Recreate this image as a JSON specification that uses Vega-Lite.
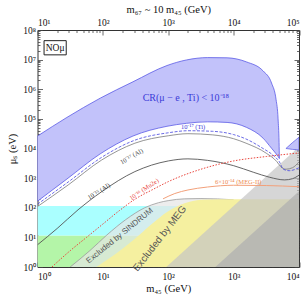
{
  "$schema": "https://vega.github.io/schema/vega-lite/v6.json",
  "width": 261.5,
  "height": 237,
  "autosize": {"type": "none"},
  "padding": {"left": 37.5, "top": 30, "right": 8, "bottom": 33},
  "background": "white",
  "config": {
    "view": {"stroke": "#333", "strokeWidth": 1},
    "axis": {"grid": false, "domain": false, "zindex": 1, "labelFont": "Liberation Serif", "titleFont": "Liberation Serif", "labelFontSize": 9.5, "titleFontSize": 10.5, "labelColor": "#111", "titleColor": "#111", "titleFontWeight": "normal", "tickColor": "#444", "tickWidth": 0.8}
  },
  "datasets": {
    "rects": [
      {"id": "green", "x": 1, "x2": 10000, "y": 1, "y2": 11.5},
      {"id": "cyan", "x": 1, "x2": 10000, "y": 11.5, "y2": 115},
      {"id": "nobox", "x": 1.26, "x2": 2.75, "y": 14500000, "y2": 43700000}
    ],
    "areas": [
      {"id": "sindrum", "x": 3.16, "y": 1}, {"id": "sindrum", "x": 6.31, "y": 3.55}, {"id": "sindrum", "x": 11.5, "y": 12}, {"id": "sindrum", "x": 22.4, "y": 39.8}, {"id": "sindrum", "x": 43.7, "y": 100}, {"id": "sindrum", "x": 70.8, "y": 148}, {"id": "sindrum", "x": 100, "y": 174}, {"id": "sindrum", "x": 178, "y": 200}, {"id": "sindrum", "x": 316, "y": 204}, {"id": "sindrum", "x": 1000, "y": 186},
      {"id": "meg", "x": 7.94, "y": 1}, {"id": "meg", "x": 15.8, "y": 2.82}, {"id": "meg", "x": 30.9, "y": 8.91}, {"id": "meg", "x": 52.5, "y": 25.1}, {"id": "meg", "x": 100, "y": 75.9}, {"id": "meg", "x": 178, "y": 141}, {"id": "meg", "x": 316, "y": 186}, {"id": "meg", "x": 631, "y": 195}, {"id": "meg", "x": 10000, "y": 195},
      {"id": "light", "x": 93.3, "y": 1}, {"id": "light", "x": 10000, "y": 11500},
      {"id": "dark", "x": 525, "y": 1}, {"id": "dark", "x": 10000, "y": 363}
    ],
    "bands": [
      {"id": "cr18", "x": 1, "y": 26300, "y2": 166}, {"id": "cr18", "x": 2.82, "y": 112000, "y2": 933}, {"id": "cr18", "x": 9.12, "y": 501000, "y2": 6610}, {"id": "cr18", "x": 28.8, "y": 1780000, "y2": 26300}, {"id": "cr18", "x": 95.5, "y": 6310000, "y2": 56200}, {"id": "cr18", "x": 191, "y": 9770000, "y2": 70800}, {"id": "cr18", "x": 398, "y": 11700000, "y2": 79400}, {"id": "cr18", "x": 794, "y": 11500000, "y2": 75900}, {"id": "cr18", "x": 1585, "y": 8320000, "y2": 51300}, {"id": "cr18", "x": 2818, "y": 4170000, "y2": 22400}, {"id": "cr18", "x": 3802, "y": 1620000, "y2": 10200}, {"id": "cr18", "x": 4467, "y": 437000, "y2": 6610}, {"id": "cr18", "x": 4786, "y": 100000, "y2": 5370}, {"id": "cr18", "x": 4955, "y": 15800, "y2": 4790}, {"id": "cr18", "x": 5012, "y": 4570, "y2": 4570},
      {"id": "ear", "x": 6310, "y": 10000, "y2": 10000}, {"id": "ear", "x": 7943, "y": 15800, "y2": 9330}, {"id": "ear", "x": 10000, "y": 24000, "y2": 8910}
    ],
    "lines": [
      {"id": "ti", "x": 1, "y": 132}, {"id": "ti", "x": 2.95, "y": 741}, {"id": "ti", "x": 9.55, "y": 5010}, {"id": "ti", "x": 30.9, "y": 19100}, {"id": "ti", "x": 100, "y": 33900}, {"id": "ti", "x": 200, "y": 39800}, {"id": "ti", "x": 479, "y": 38000}, {"id": "ti", "x": 1000, "y": 29500}, {"id": "ti", "x": 1549, "y": 20900}, {"id": "ti", "x": 2818, "y": 10000}, {"id": "ti", "x": 3981, "y": 6030}, {"id": "ti", "x": 5012, "y": 3550}, {"id": "ti", "x": 5754, "y": 2000}, {"id": "ti", "x": 7079, "y": 1780}, {"id": "ti", "x": 10000, "y": 2240},
      {"id": "al17", "x": 1, "y": 110}, {"id": "al17", "x": 2.95, "y": 589}, {"id": "al17", "x": 9.55, "y": 4070}, {"id": "al17", "x": 30.9, "y": 15100}, {"id": "al17", "x": 100, "y": 26900}, {"id": "al17", "x": 200, "y": 31600}, {"id": "al17", "x": 479, "y": 28800}, {"id": "al17", "x": 1000, "y": 21400}, {"id": "al17", "x": 1549, "y": 15100}, {"id": "al17", "x": 3162, "y": 6920}, {"id": "al17", "x": 4571, "y": 3630}, {"id": "al17", "x": 5248, "y": 2450}, {"id": "al17", "x": 6310, "y": 2000}, {"id": "al17", "x": 7943, "y": 2240}, {"id": "al17", "x": 10000, "y": 3550},
      {"id": "al15", "x": 1, "y": 5.62}, {"id": "al15", "x": 2, "y": 20}, {"id": "al15", "x": 4.17, "y": 85.1}, {"id": "al15", "x": 9.55, "y": 347}, {"id": "al15", "x": 30.9, "y": 1660}, {"id": "al15", "x": 100, "y": 3800}, {"id": "al15", "x": 200, "y": 4470}, {"id": "al15", "x": 398, "y": 3980}, {"id": "al15", "x": 1000, "y": 2630}, {"id": "al15", "x": 1995, "y": 1585}, {"id": "al15", "x": 3548, "y": 1070}, {"id": "al15", "x": 6026, "y": 871}, {"id": "al15", "x": 7943, "y": 955}, {"id": "al15", "x": 10000, "y": 1259},
      {"id": "mu2e", "x": 1.66, "y": 1}, {"id": "mu2e", "x": 3.16, "y": 3.55}, {"id": "mu2e", "x": 5.62, "y": 10}, {"id": "mu2e", "x": 10, "y": 28.2}, {"id": "mu2e", "x": 17.8, "y": 79.4}, {"id": "mu2e", "x": 31.6, "y": 200}, {"id": "mu2e", "x": 56.2, "y": 398}, {"id": "mu2e", "x": 100, "y": 759}, {"id": "mu2e", "x": 316, "y": 1995}, {"id": "mu2e", "x": 1000, "y": 3800}, {"id": "mu2e", "x": 3162, "y": 5370}, {"id": "mu2e", "x": 10000, "y": 7080},
      {"id": "megii", "x": 83.2, "y": 200}, {"id": "megii", "x": 126, "y": 302}, {"id": "megii", "x": 200, "y": 398}, {"id": "megii", "x": 398, "y": 501}, {"id": "megii", "x": 1000, "y": 575}, {"id": "megii", "x": 3162, "y": 562}, {"id": "megii", "x": 10000, "y": 513}
    ],
    "labels": [
      {"id": "cr", "x": 186, "y": 513000, "text": "CR(μ − e , Ti) < 10⁻¹⁸"},
      {"id": "ti", "x": 240, "y": 53700, "text": "10⁻¹⁷ (Ti)"},
      {"id": "al17", "x": 27.5, "y": 5370, "text": "10⁻¹⁷ (Al)"},
      {"id": "al15", "x": 8.7, "y": 355, "text": "10⁻¹⁵ (Al)"},
      {"id": "mu2e", "x": 42.7, "y": 417, "text": "10⁻¹⁶ (Mu2e)"},
      {"id": "megii", "x": 1175, "y": 741, "text": "6×10⁻¹⁴ (MEG-II)"},
      {"id": "sindrum", "x": 18.2, "y": 11.2, "text": "Excluded by SINDRUM"},
      {"id": "meg", "x": 74.1, "y": 9.12, "text": "Excluded by MEG"},
      {"id": "no", "x": 1.86, "y": 25000000, "text": "NOμ"}
    ]
  },
  "encoding": {
    "x": {"field": "x", "type": "quantitative", "scale": {"type": "log", "domain": [1, 10000]}, "axis": null},
    "y": {"field": "y", "type": "quantitative", "scale": {"type": "log", "domain": [1, 100000000]}, "axis": null}
  },
  "layer": [
    {
      "data": {"name": "rects"},
      "transform": [{"filter": "datum.id == 'green'"}],
      "mark": {"type": "rect", "fill": "#b4f5a8", "clip": true},
      "encoding": {
        "x": {"field": "x", "type": "quantitative", "axis": {"orient": "bottom", "values": [1, 10, 100, 1000, 10000], "ticks": false, "labelPadding": 4, "labelExpr": "'10' + ['⁰','¹','²','³','⁴','⁵','⁶','⁷','⁸'][round(log(datum.value)/LN10)]", "title": "m₄₅ (GeV)", "titlePadding": 3}},
        "x2": {"field": "x2"},
        "y": {"field": "y", "type": "quantitative", "axis": {"orient": "left", "values": [1, 10, 100, 1000, 10000, 100000, 1000000, 10000000, 100000000], "ticks": false, "labelPadding": 2, "labelExpr": "'10' + ['⁰','¹','²','³','⁴','⁵','⁶','⁷','⁸'][round(log(datum.value)/LN10)]", "title": "μₛ (eV)", "titlePadding": 5}},
        "y2": {"field": "y2"}
      }
    },
    {
      "data": {"name": "rects"},
      "transform": [{"filter": "datum.id == 'cyan'"}],
      "mark": {"type": "rect", "fill": "#aaffff", "clip": true},
      "encoding": {
        "x": {"field": "x", "type": "quantitative", "axis": {"orient": "bottom", "values": [1, 10, 100, 1000, 10000], "labels": false, "tickSize": -5, "title": null}},
        "x2": {"field": "x2"},
        "y": {"field": "y", "type": "quantitative", "axis": {"orient": "left", "values": [1, 10, 100, 1000, 10000, 100000, 1000000, 10000000, 100000000], "labels": false, "tickSize": -5, "title": null}},
        "y2": {"field": "y2"}
      }
    },
    {
      "data": {"name": "areas"},
      "transform": [{"filter": "datum.id == 'sindrum'"}],
      "mark": {"type": "area", "fill": "#e6e6e6", "interpolate": "monotone", "clip": true, "line": {"stroke": "#9a9a9a", "strokeWidth": 0.8}},
      "encoding": {
        "x": {"field": "x", "type": "quantitative", "axis": {"orient": "bottom", "values": [2,3,4,5,6,7,8,9,20,30,40,50,60,70,80,90,200,300,400,500,600,700,800,900,2000,3000,4000,5000,6000,7000,8000,9000], "labels": false, "tickSize": -2.5, "title": null}},
        "y": {"field": "y", "type": "quantitative", "axis": {"orient": "left", "values": [2,3,4,5,6,7,8,9,20,30,40,50,60,70,80,90,200,300,400,500,600,700,800,900,2000,3000,4000,5000,6000,7000,8000,9000,20000,30000,40000,50000,60000,70000,80000,90000,200000,300000,400000,500000,600000,700000,800000,900000,2000000,3000000,4000000,5000000,6000000,7000000,8000000,9000000,20000000,30000000,40000000,50000000,60000000,70000000,80000000,90000000], "labels": false, "tickSize": -2.5, "title": null}},
        "y2": {"datum": 1}
      }
    },
    {
      "data": {"name": "areas"},
      "transform": [{"filter": "datum.id == 'meg'"}],
      "mark": {"type": "area", "fill": "#f5f0a0", "interpolate": "monotone", "clip": true},
      "encoding": {
        "x": {"field": "x", "type": "quantitative", "axis": {"orient": "top", "values": [1, 10, 100, 1000, 10000], "ticks": false, "labelPadding": 3, "labelExpr": "'10' + ['⁰','¹','²','³','⁴','⁵','⁶','⁷','⁸'][round(log(datum.value)/LN10) + 1]", "title": "m₆₇ ~ 10 m₄₅ (GeV)", "titlePadding": 3}},
        "y": {"field": "y", "type": "quantitative", "axis": {"orient": "right", "values": [1, 10, 100, 1000, 10000, 100000, 1000000, 10000000, 100000000], "labels": false, "tickSize": -5, "title": null}},
        "y2": {"datum": 1}
      }
    },
    {
      "data": {"name": "areas"},
      "transform": [{"filter": "datum.id == 'light'"}],
      "mark": {"type": "area", "fill": "#c4c4c4", "opacity": 0.7, "clip": true},
      "encoding": {
        "x": {"field": "x", "type": "quantitative", "axis": {"orient": "top", "values": [1, 10, 100, 1000, 10000], "labels": false, "tickSize": -5, "title": null}},
        "y": {"field": "y", "type": "quantitative", "axis": {"orient": "right", "values": [2,3,4,5,6,7,8,9,20,30,40,50,60,70,80,90,200,300,400,500,600,700,800,900,2000,3000,4000,5000,6000,7000,8000,9000,20000,30000,40000,50000,60000,70000,80000,90000,200000,300000,400000,500000,600000,700000,800000,900000,2000000,3000000,4000000,5000000,6000000,7000000,8000000,9000000,20000000,30000000,40000000,50000000,60000000,70000000,80000000,90000000], "labels": false, "tickSize": -2.5, "title": null}},
        "y2": {"datum": 1}
      }
    },
    {
      "data": {"name": "areas"},
      "transform": [{"filter": "datum.id == 'dark'"}],
      "mark": {"type": "area", "fill": "#b0b0b0", "opacity": 0.75, "clip": true},
      "encoding": {
        "x": {"field": "x", "type": "quantitative", "axis": {"orient": "top", "values": [2,3,4,5,6,7,8,9,20,30,40,50,60,70,80,90,200,300,400,500,600,700,800,900,2000,3000,4000,5000,6000,7000,8000,9000], "labels": false, "tickSize": -2.5, "title": null}},
        "y2": {"datum": 1}
      }
    },
    {
      "data": {"name": "bands"},
      "transform": [{"filter": "datum.id == 'cr18'"}],
      "mark": {"type": "area", "fill": "#c2c2fa", "stroke": "#5a5ae6", "strokeWidth": 0.8, "interpolate": "monotone", "clip": true},
      "encoding": {"y2": {"field": "y2"}}
    },
    {
      "data": {"name": "bands"},
      "transform": [{"filter": "datum.id == 'ear'"}],
      "mark": {"type": "area", "fill": "#c2c2fa", "stroke": "#5a5ae6", "strokeWidth": 0.7, "interpolate": "monotone", "clip": true},
      "encoding": {"y2": {"field": "y2"}}
    },
    {
      "data": {"name": "lines"},
      "transform": [{"filter": "datum.id == 'megii'"}],
      "mark": {"type": "line", "stroke": "#f2a07a", "strokeWidth": 1, "interpolate": "monotone", "clip": true}
    },
    {
      "data": {"name": "lines"},
      "transform": [{"filter": "datum.id == 'al15'"}],
      "mark": {"type": "line", "stroke": "#555555", "strokeWidth": 0.9, "interpolate": "monotone", "clip": true}
    },
    {
      "data": {"name": "lines"},
      "transform": [{"filter": "datum.id == 'mu2e'"}],
      "mark": {"type": "line", "stroke": "#e8453c", "strokeWidth": 1, "strokeDash": [1.5, 1.5], "interpolate": "monotone", "clip": true}
    },
    {
      "data": {"name": "lines"},
      "transform": [{"filter": "datum.id == 'al17'"}],
      "mark": {"type": "line", "stroke": "#7a7a7a", "strokeWidth": 0.8, "interpolate": "monotone", "clip": true}
    },
    {
      "data": {"name": "lines"},
      "transform": [{"filter": "datum.id == 'ti'"}],
      "mark": {"type": "line", "stroke": "#4646e0", "strokeWidth": 0.8, "strokeDash": [3, 1.5], "interpolate": "monotone", "clip": true}
    },
    {
      "data": {"name": "rects"},
      "transform": [{"filter": "datum.id == 'nobox'"}],
      "mark": {"type": "rect", "fill": "white", "stroke": "#222", "strokeWidth": 1},
      "encoding": {"x2": {"field": "x2"}, "y2": {"field": "y2"}}
    },
    {
      "data": {"name": "labels"},
      "transform": [{"filter": "datum.id == 'no'"}],
      "mark": {"type": "text", "font": "Liberation Serif", "fontSize": 9.5, "color": "#111"},
      "encoding": {"text": {"field": "text"}}
    },
    {
      "data": {"name": "labels"},
      "transform": [{"filter": "datum.id == 'cr'"}],
      "mark": {"type": "text", "font": "Liberation Serif", "fontSize": 10, "color": "#3a3ad8"},
      "encoding": {"text": {"field": "text"}}
    },
    {
      "data": {"name": "labels"},
      "transform": [{"filter": "datum.id == 'ti'"}],
      "mark": {"type": "text", "font": "Liberation Serif", "fontSize": 6.5, "color": "#3a3ad8"},
      "encoding": {"text": {"field": "text"}}
    },
    {
      "data": {"name": "labels"},
      "transform": [{"filter": "datum.id == 'al17'"}],
      "mark": {"type": "text", "font": "Liberation Serif", "fontSize": 6.5, "color": "#444", "angle": 330},
      "encoding": {"text": {"field": "text"}}
    },
    {
      "data": {"name": "labels"},
      "transform": [{"filter": "datum.id == 'al15'"}],
      "mark": {"type": "text", "font": "Liberation Serif", "fontSize": 6.5, "color": "#333", "angle": 328},
      "encoding": {"text": {"field": "text"}}
    },
    {
      "data": {"name": "labels"},
      "transform": [{"filter": "datum.id == 'mu2e'"}],
      "mark": {"type": "text", "font": "Liberation Serif", "fontSize": 6.5, "color": "#e8453c", "angle": 326},
      "encoding": {"text": {"field": "text"}}
    },
    {
      "data": {"name": "labels"},
      "transform": [{"filter": "datum.id == 'megii'"}],
      "mark": {"type": "text", "font": "Liberation Serif", "fontSize": 6.5, "color": "#ee8a50"},
      "encoding": {"text": {"field": "text"}}
    },
    {
      "data": {"name": "labels"},
      "transform": [{"filter": "datum.id == 'sindrum'"}],
      "mark": {"type": "text", "font": "Liberation Sans", "fontSize": 8, "color": "#555", "angle": 321},
      "encoding": {"text": {"field": "text"}}
    },
    {
      "data": {"name": "labels"},
      "transform": [{"filter": "datum.id == 'meg'"}],
      "mark": {"type": "text", "font": "Liberation Sans", "fontSize": 10, "color": "#555", "angle": 308},
      "encoding": {"text": {"field": "text"}}
    }
  ],
  "resolve": {"axis": {"x": "independent", "y": "independent"}}
}
